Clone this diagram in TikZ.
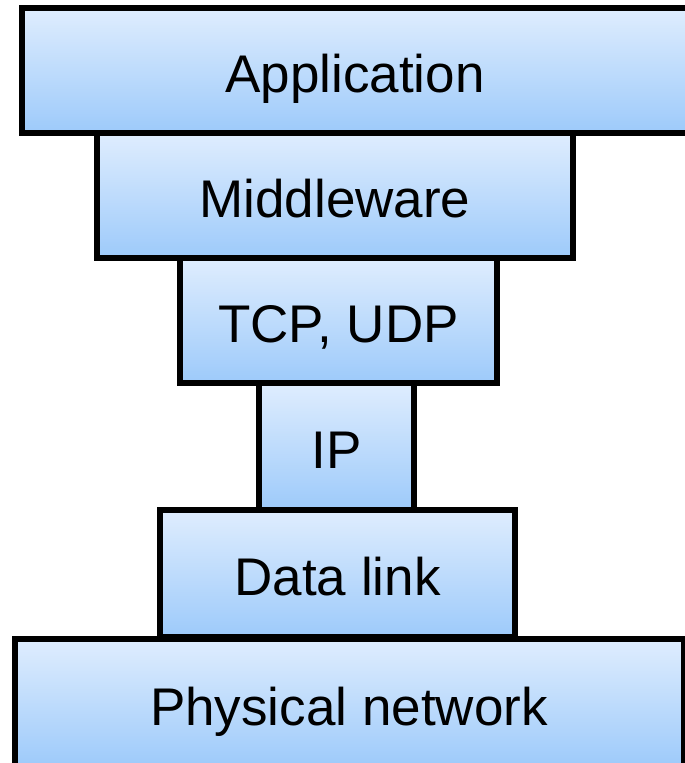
\documentclass[tikz,border=0pt]{standalone}
\usepackage{fontspec}
\setmainfont{Liberation Sans}
\usetikzlibrary{shadows}
\definecolor{boxtop}{HTML}{DFEDFE}
\definecolor{boxbot}{HTML}{9DCAFA}
\tikzset{
  layer/.style={draw=black, line width=6pt, rectangle, inner sep=0pt,
    top color=boxtop, bottom color=boxbot,
    drop shadow={opacity=0.3, shadow xshift=3pt, shadow yshift=-3pt},
    font=\fontsize{53}{60}\selectfont, text=black,
    text height=44pt, text depth=0pt}
}
\begin{document}
\begin{tikzpicture}[x=1pt,y=-1pt]
\useasboundingbox (0,0) rectangle (685,763);
\clip (0,0) rectangle (685,763);
\node[layer, minimum width=720pt, minimum height=125pt, anchor=west] (app) at (19,70.5) {\makebox[666pt]{Application}\hspace*{54pt}};
\node[layer, minimum width=476pt, minimum height=125pt] (mid) at (335,195.5) {Middleware};
\node[layer, minimum width=317pt, minimum height=125pt] (tcp) at (338.5,320.5) {TCP, UDP};
\node[layer, minimum width=155pt, minimum height=127pt] (ip) at (336.5,446.5) {IP};
\node[layer, minimum width=355pt, minimum height=127pt] (dl) at (337.5,573.5) {Data link};
\node[layer, minimum width=669pt, minimum height=128pt] (phys) at (349,703) {Physical network};
\end{tikzpicture}
\end{document}
